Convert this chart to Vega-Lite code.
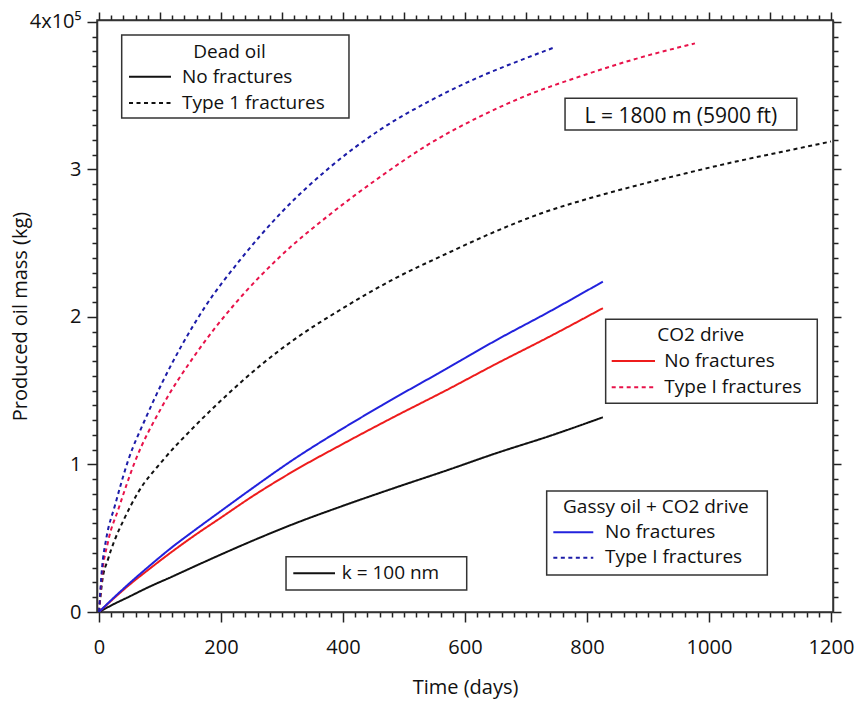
{
  "$schema": "https://vega.github.io/schema/vega-lite/v6.json",
  "width": 736,
  "height": 592,
  "autosize": {"type": "none"},
  "padding": {"left": 97, "top": 20, "right": 27, "bottom": 90},
  "background": "white",
  "config": {
    "view": {"stroke": "#333", "strokeWidth": 1.5},
    "font": "Open Sans",
    "axis": {"grid": false, "domainColor": "#333", "domainWidth": 1.5, "labelColor": "#111", "titleColor": "#111", "labelFont": "Open Sans", "titleFont": "Open Sans", "titleFontWeight": "normal"}
  },
  "datasets": {
    "curves": [
      {"s": "dead_nf", "t": 0, "m": 0}, {"s": "dead_nf", "t": 25, "m": 5500}, {"s": "dead_nf", "t": 50, "m": 10500}, {"s": "dead_nf", "t": 82, "m": 17000}, {"s": "dead_nf", "t": 120, "m": 24000}, {"s": "dead_nf", "t": 157, "m": 31000}, {"s": "dead_nf", "t": 200, "m": 39000}, {"s": "dead_nf", "t": 250, "m": 48000}, {"s": "dead_nf", "t": 321, "m": 60000}, {"s": "dead_nf", "t": 400, "m": 72000}, {"s": "dead_nf", "t": 480, "m": 83500}, {"s": "dead_nf", "t": 570, "m": 96000}, {"s": "dead_nf", "t": 650, "m": 107500}, {"s": "dead_nf", "t": 740, "m": 119500}, {"s": "dead_nf", "t": 826, "m": 132000},
      {"s": "dead_t1", "t": 0, "m": 0}, {"s": "dead_t1", "t": 5, "m": 20000}, {"s": "dead_t1", "t": 15, "m": 36000}, {"s": "dead_t1", "t": 25, "m": 48000}, {"s": "dead_t1", "t": 40, "m": 62000}, {"s": "dead_t1", "t": 64, "m": 81000}, {"s": "dead_t1", "t": 103, "m": 102000}, {"s": "dead_t1", "t": 157, "m": 126000}, {"s": "dead_t1", "t": 212, "m": 148000}, {"s": "dead_t1", "t": 267, "m": 168000}, {"s": "dead_t1", "t": 321, "m": 185000}, {"s": "dead_t1", "t": 400, "m": 206000}, {"s": "dead_t1", "t": 480, "m": 225000}, {"s": "dead_t1", "t": 570, "m": 243000}, {"s": "dead_t1", "t": 650, "m": 258000}, {"s": "dead_t1", "t": 723, "m": 270000}, {"s": "dead_t1", "t": 800, "m": 280000}, {"s": "dead_t1", "t": 880, "m": 289000}, {"s": "dead_t1", "t": 958, "m": 297000}, {"s": "dead_t1", "t": 1040, "m": 305000}, {"s": "dead_t1", "t": 1120, "m": 312000}, {"s": "dead_t1", "t": 1200, "m": 319000},
      {"s": "co2_nf", "t": 0, "m": 0}, {"s": "co2_nf", "t": 25, "m": 9500}, {"s": "co2_nf", "t": 50, "m": 18500}, {"s": "co2_nf", "t": 82, "m": 29000}, {"s": "co2_nf", "t": 120, "m": 41000}, {"s": "co2_nf", "t": 157, "m": 52000}, {"s": "co2_nf", "t": 200, "m": 64000}, {"s": "co2_nf", "t": 250, "m": 78000}, {"s": "co2_nf", "t": 321, "m": 96000}, {"s": "co2_nf", "t": 400, "m": 114000}, {"s": "co2_nf", "t": 480, "m": 131500}, {"s": "co2_nf", "t": 570, "m": 150500}, {"s": "co2_nf", "t": 650, "m": 168000}, {"s": "co2_nf", "t": 740, "m": 187000}, {"s": "co2_nf", "t": 826, "m": 206000},
      {"s": "co2_t1", "t": 0, "m": 0}, {"s": "co2_t1", "t": 5, "m": 25000}, {"s": "co2_t1", "t": 15, "m": 48000}, {"s": "co2_t1", "t": 32, "m": 70000}, {"s": "co2_t1", "t": 59, "m": 102000}, {"s": "co2_t1", "t": 103, "m": 139000}, {"s": "co2_t1", "t": 157, "m": 174000}, {"s": "co2_t1", "t": 223, "m": 209000}, {"s": "co2_t1", "t": 297, "m": 241000}, {"s": "co2_t1", "t": 380, "m": 270000}, {"s": "co2_t1", "t": 461, "m": 295000}, {"s": "co2_t1", "t": 540, "m": 317000}, {"s": "co2_t1", "t": 625, "m": 336000}, {"s": "co2_t1", "t": 700, "m": 350000}, {"s": "co2_t1", "t": 788, "m": 363000}, {"s": "co2_t1", "t": 880, "m": 375000}, {"s": "co2_t1", "t": 977, "m": 385500},
      {"s": "gassy_nf", "t": 0, "m": 0}, {"s": "gassy_nf", "t": 25, "m": 10000}, {"s": "gassy_nf", "t": 50, "m": 19500}, {"s": "gassy_nf", "t": 82, "m": 31000}, {"s": "gassy_nf", "t": 120, "m": 44000}, {"s": "gassy_nf", "t": 157, "m": 55500}, {"s": "gassy_nf", "t": 200, "m": 68500}, {"s": "gassy_nf", "t": 250, "m": 83500}, {"s": "gassy_nf", "t": 321, "m": 104000}, {"s": "gassy_nf", "t": 400, "m": 124500}, {"s": "gassy_nf", "t": 480, "m": 144000}, {"s": "gassy_nf", "t": 570, "m": 165000}, {"s": "gassy_nf", "t": 650, "m": 184000}, {"s": "gassy_nf", "t": 740, "m": 204000}, {"s": "gassy_nf", "t": 826, "m": 224000},
      {"s": "gassy_t1", "t": 0, "m": 0}, {"s": "gassy_t1", "t": 5, "m": 30000}, {"s": "gassy_t1", "t": 12, "m": 50000}, {"s": "gassy_t1", "t": 26, "m": 72000}, {"s": "gassy_t1", "t": 48, "m": 103000}, {"s": "gassy_t1", "t": 75, "m": 130000}, {"s": "gassy_t1", "t": 103, "m": 155000}, {"s": "gassy_t1", "t": 136, "m": 181000}, {"s": "gassy_t1", "t": 174, "m": 207000}, {"s": "gassy_t1", "t": 230, "m": 238000}, {"s": "gassy_t1", "t": 297, "m": 270000}, {"s": "gassy_t1", "t": 380, "m": 302000}, {"s": "gassy_t1", "t": 461, "m": 327000}, {"s": "gassy_t1", "t": 540, "m": 346000}, {"s": "gassy_t1", "t": 625, "m": 363000}, {"s": "gassy_t1", "t": 700, "m": 375500}, {"s": "gassy_t1", "t": 748, "m": 383000}
    ]
  },
  "resolve": {"axis": {"x": "independent", "y": "independent"}},
  "layer": [
    {
      "data": {"name": "curves"},
      "mark": {"type": "line", "strokeWidth": 2, "clip": true, "interpolate": "monotone"},
      "encoding": {
        "x": {"field": "t", "type": "quantitative",
          "scale": {"domain": [-3.28, 1203.28], "nice": false, "zero": false},
          "axis": {"orient": "bottom", "title": "Time (days)", "titleFontSize": 20, "titleX": 368, "titleY": 75, "titleBaseline": "middle", "titleAlign": "center",
            "values": [0,20,40,60,80,100,120,140,160,180,200,220,240,260,280,300,320,340,360,380,400,420,440,460,480,500,520,540,560,580,600,620,640,660,680,700,720,740,760,780,800,820,840,860,880,900,920,940,960,980,1000,1020,1040,1060,1080,1100,1120,1140,1160,1180,1200],
            "labelExpr": "datum.value % 200 === 0 ? format(datum.value, 'd') : ''",
            "labelFontSize": 20, "labelPadding": 15, "labelFlush": false, "labelOverlap": false,
            "ticks": true, "tickSize": 10, "tickColor": "#222222", "tickWidth": 1.5,
            "tickDash": {"condition": {"test": "datum.value % 200 === 0", "value": [12, 0]}, "value": [5, 30]}}},
        "y": {"field": "m", "type": "quantitative",
          "scale": {"domain": [0, 401350], "nice": false, "zero": false},
          "axis": {"orient": "left", "title": "Produced oil mass (kg)", "titleFontSize": 20, "titleX": -77, "titleY": 296, "titleBaseline": "middle", "titleAlign": "center", "titleAngle": -90,
            "values": [0,10000,20000,30000,40000,50000,60000,70000,80000,90000,100000,110000,120000,130000,140000,150000,160000,170000,180000,190000,200000,210000,220000,230000,240000,250000,260000,270000,280000,290000,300000,310000,320000,330000,340000,350000,360000,370000,380000,390000,400000],
            "labelExpr": "datum.value === 400000 ? '4x10⁵' : (datum.value % 100000 === 0 ? format(datum.value / 100000, 'd') : '')",
            "labelFontSize": 20, "labelPadding": 6, "labelOverlap": false, "labelFlush": false,
            "ticks": true, "tickSize": 10, "tickColor": "#222222", "tickWidth": 1.5,
            "tickDash": {"condition": {"test": "datum.value % 100000 === 0", "value": [12, 0]}, "value": [5, 30]}}},
        "color": {"field": "s", "type": "nominal", "legend": null,
          "scale": {"domain": ["dead_nf", "dead_t1", "co2_nf", "co2_t1", "gassy_nf", "gassy_t1"], "range": ["#111111", "#111111", "#ee1c1c", "#e8124a", "#2222dd", "#1c1ca8"]}},
        "strokeDash": {"field": "s", "type": "nominal", "legend": null,
          "scale": {"domain": ["dead_nf", "dead_t1", "co2_nf", "co2_t1", "gassy_nf", "gassy_t1"], "range": [[1, 0], [4, 3.5], [1, 0], [4, 3.5], [1, 0], [4, 3.5]]}},
        "order": {"field": "t", "type": "quantitative"}
      }
    },
    {
      "data": {"name": "curves"},
      "mark": {"type": "point", "opacity": 0},
      "encoding": {
        "x": {"field": "t", "type": "quantitative",
          "scale": {"domain": [-3.28, 1203.28], "nice": false, "zero": false},
          "axis": {"orient": "top", "title": null, "labels": false,
            "ticks": true, "tickSize": 8, "tickColor": "#222222", "tickWidth": 1.5,
            "tickDash": {"condition": {"test": "datum.value % 100 === 0", "value": [10, 0]}, "value": [5, 30]},
            "values": [0,20,40,60,80,100,120,140,160,180,200,220,240,260,280,300,320,340,360,380,400,420,440,460,480,500,520,540,560,580,600,620,640,660,680,700,720,740,760,780,800,820,840,860,880,900,920,940,960,980,1000,1020,1040,1060,1080,1100,1120,1140,1160,1180,1200]}},
        "y": {"field": "m", "type": "quantitative",
          "scale": {"domain": [0, 401350], "nice": false, "zero": false},
          "axis": {"orient": "right", "title": null, "labels": false,
            "ticks": true, "tickSize": 8, "tickColor": "#222222", "tickWidth": 1.5,
            "tickDash": {"condition": {"test": "datum.value % 100000 === 0", "value": [10, 0]}, "value": [5, 30]},
            "values": [0,10000,20000,30000,40000,50000,60000,70000,80000,90000,100000,110000,120000,130000,140000,150000,160000,170000,180000,190000,200000,210000,220000,230000,240000,250000,260000,270000,280000,290000,300000,310000,320000,330000,340000,350000,360000,370000,380000,390000,400000]}}
      }
    },
    {"data": {"values": [{}]}, "mark": {"type": "rect", "fill": "white", "stroke": "#333", "strokeWidth": 1.5},
      "encoding": {"x": {"datum": 37.2, "type": "quantitative", "axis": null}, "x2": {"datum": 409.8}, "y": {"datum": 391200, "type": "quantitative", "axis": null}, "y2": {"datum": 334900}}},
    {"data": {"values": [{}]}, "mark": {"type": "rect", "fill": "white", "stroke": "#333", "strokeWidth": 1.5},
      "encoding": {"x": {"datum": 764, "type": "quantitative", "axis": null}, "x2": {"datum": 1144}, "y": {"datum": 348300, "type": "quantitative", "axis": null}, "y2": {"datum": 326800}}},
    {"data": {"values": [{}]}, "mark": {"type": "rect", "fill": "white", "stroke": "#333", "strokeWidth": 1.5},
      "encoding": {"x": {"datum": 830.6, "type": "quantitative", "axis": null}, "x2": {"datum": 1177.5}, "y": {"datum": 198400, "type": "quantitative", "axis": null}, "y2": {"datum": 141500}}},
    {"data": {"values": [{}]}, "mark": {"type": "rect", "fill": "white", "stroke": "#333", "strokeWidth": 1.5},
      "encoding": {"x": {"datum": 733.9, "type": "quantitative", "axis": null}, "x2": {"datum": 1095.6}, "y": {"datum": 82000, "type": "quantitative", "axis": null}, "y2": {"datum": 25100}}},
    {"data": {"values": [{}]}, "mark": {"type": "rect", "fill": "white", "stroke": "#333", "strokeWidth": 1.5},
      "encoding": {"x": {"datum": 306.6, "type": "quantitative", "axis": null}, "x2": {"datum": 602.8}, "y": {"datum": 37500, "type": "quantitative", "axis": null}, "y2": {"datum": 14900}}},
    {"data": {"values": [{}]}, "mark": {"type": "rule", "color": "#111", "strokeWidth": 2},
      "encoding": {"x": {"datum": 49.2, "type": "quantitative", "axis": null}, "x2": {"datum": 118}, "y": {"datum": 362900, "type": "quantitative", "axis": null}}},
    {"data": {"values": [{}]}, "mark": {"type": "rule", "color": "#111", "strokeWidth": 2, "strokeDash": [4, 3.5]},
      "encoding": {"x": {"datum": 49.2, "type": "quantitative", "axis": null}, "x2": {"datum": 118}, "y": {"datum": 345100, "type": "quantitative", "axis": null}}},
    {"data": {"values": [{}]}, "mark": {"type": "rule", "color": "#ee1c1c", "strokeWidth": 2},
      "encoding": {"x": {"datum": 840.5, "type": "quantitative", "axis": null}, "x2": {"datum": 911.5}, "y": {"datum": 170200, "type": "quantitative", "axis": null}}},
    {"data": {"values": [{}]}, "mark": {"type": "rule", "color": "#e8124a", "strokeWidth": 2, "strokeDash": [4, 3.5]},
      "encoding": {"x": {"datum": 840.5, "type": "quantitative", "axis": null}, "x2": {"datum": 911.5}, "y": {"datum": 152300, "type": "quantitative", "axis": null}}},
    {"data": {"values": [{}]}, "mark": {"type": "rule", "color": "#2222dd", "strokeWidth": 2},
      "encoding": {"x": {"datum": 744.8, "type": "quantitative", "axis": null}, "x2": {"datum": 810.3}, "y": {"datum": 54000, "type": "quantitative", "axis": null}}},
    {"data": {"values": [{}]}, "mark": {"type": "rule", "color": "#1c1ca8", "strokeWidth": 2, "strokeDash": [4, 3.5]},
      "encoding": {"x": {"datum": 744.8, "type": "quantitative", "axis": null}, "x2": {"datum": 810.3}, "y": {"datum": 36800, "type": "quantitative", "axis": null}}},
    {"data": {"values": [{}]}, "mark": {"type": "rule", "color": "#111", "strokeWidth": 2},
      "encoding": {"x": {"datum": 318.5, "type": "quantitative", "axis": null}, "x2": {"datum": 386.9}, "y": {"datum": 26200, "type": "quantitative", "axis": null}}},
    {"data": {"values": [{}]}, "mark": {"type": "text", "text": "Dead oil", "align": "center", "baseline": "middle", "fontSize": 19, "color": "#111"},
      "encoding": {"x": {"datum": 214, "type": "quantitative", "axis": null}, "y": {"datum": 379900, "type": "quantitative", "axis": null}}},
    {"data": {"values": [{}]}, "mark": {"type": "text", "text": "No fractures", "align": "left", "baseline": "middle", "fontSize": 19, "color": "#111"},
      "encoding": {"x": {"datum": 136, "type": "quantitative", "axis": null}, "y": {"datum": 362400, "type": "quantitative", "axis": null}}},
    {"data": {"values": [{}]}, "mark": {"type": "text", "text": "Type 1 fractures", "align": "left", "baseline": "middle", "fontSize": 19, "color": "#111"},
      "encoding": {"x": {"datum": 136, "type": "quantitative", "axis": null}, "y": {"datum": 345100, "type": "quantitative", "axis": null}}},
    {"data": {"values": [{}]}, "mark": {"type": "text", "text": "L = 1800 m (5900 ft)", "align": "center", "baseline": "middle", "fontSize": 21, "color": "#111"},
      "encoding": {"x": {"datum": 954, "type": "quantitative", "axis": null}, "y": {"datum": 335800, "type": "quantitative", "axis": null}}},
    {"data": {"values": [{}]}, "mark": {"type": "text", "text": "CO2 drive", "align": "center", "baseline": "middle", "fontSize": 19, "color": "#111"},
      "encoding": {"x": {"datum": 986.6, "type": "quantitative", "axis": null}, "y": {"datum": 187800, "type": "quantitative", "axis": null}}},
    {"data": {"values": [{}]}, "mark": {"type": "text", "text": "No fractures", "align": "left", "baseline": "middle", "fontSize": 19, "color": "#111"},
      "encoding": {"x": {"datum": 926.7, "type": "quantitative", "axis": null}, "y": {"datum": 170200, "type": "quantitative", "axis": null}}},
    {"data": {"values": [{}]}, "mark": {"type": "text", "text": "Type I fractures", "align": "left", "baseline": "middle", "fontSize": 19, "color": "#111"},
      "encoding": {"x": {"datum": 926.7, "type": "quantitative", "axis": null}, "y": {"datum": 152800, "type": "quantitative", "axis": null}}},
    {"data": {"values": [{}]}, "mark": {"type": "text", "text": "Gassy oil + CO2 drive", "align": "center", "baseline": "middle", "fontSize": 19, "color": "#111"},
      "encoding": {"x": {"datum": 912.8, "type": "quantitative", "axis": null}, "y": {"datum": 71000, "type": "quantitative", "axis": null}}},
    {"data": {"values": [{}]}, "mark": {"type": "text", "text": "No fractures", "align": "left", "baseline": "middle", "fontSize": 19, "color": "#111"},
      "encoding": {"x": {"datum": 829.5, "type": "quantitative", "axis": null}, "y": {"datum": 54000, "type": "quantitative", "axis": null}}},
    {"data": {"values": [{}]}, "mark": {"type": "text", "text": "Type I fractures", "align": "left", "baseline": "middle", "fontSize": 19, "color": "#111"},
      "encoding": {"x": {"datum": 829.5, "type": "quantitative", "axis": null}, "y": {"datum": 37200, "type": "quantitative", "axis": null}}},
    {"data": {"values": [{}]}, "mark": {"type": "text", "text": "k = 100 nm", "align": "left", "baseline": "middle", "fontSize": 19, "color": "#111"},
      "encoding": {"x": {"datum": 397.9, "type": "quantitative", "axis": null}, "y": {"datum": 26200, "type": "quantitative", "axis": null}}}
  ]
}
